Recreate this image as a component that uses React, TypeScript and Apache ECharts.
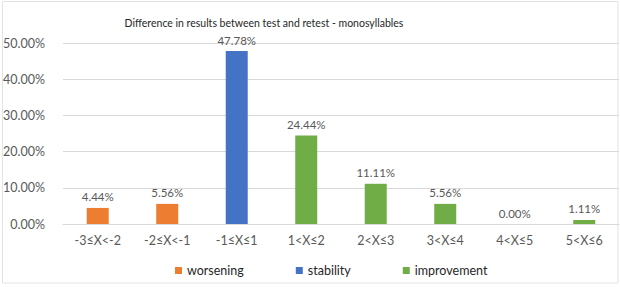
import React, { useEffect, useRef } from "react";
import * as echarts from "echarts";

const categories = ["-3≤X<-2", "-2≤X<-1", "-1≤X≤1", "1<X≤2", "2<X≤3", "3<X≤4", "4<X≤5", "5<X≤6"];
const worsening = [4.44, 5.56, null, null, null, null, null, null];
const stability = [null, null, 47.78, null, null, null, null, null];
const improvement = [null, null, null, 24.44, 11.11, 5.56, 0.0, 1.11];
const seriesNames = ["worsening", "stability", "improvement"];
const seriesColors = ["#ED7D31", "#4472C4", "#70AD47"];
const titleText = "Difference in results between test and retest - monosyllables";

export default function App() {
  const ref = useRef<HTMLDivElement>(null);
  useEffect(() => {
    const chart = echarts.init(ref.current!, null, { renderer: "svg" });
    const font = "Lato";
    const datas = [worsening, stability, improvement];
    chart.setOption({
      animation: false,
      backgroundColor: "#ffffff",
      textStyle: { fontFamily: font },
      graphic: [
        {
          type: "rect",
          shape: { x: 2.5, y: 1.5, width: 615.5, height: 281.5 },
          style: { fill: "none", stroke: "#E3E3E3", lineWidth: 1 },
          silent: true,
        },
      ],
      title: {
        text: titleText,
        left: 259,
        top: 12,
        textAlign: "center",
        textStyle: { fontSize: 10.5, fontWeight: "normal", color: "#262626", fontFamily: font },
      },
      legend: {
        data: seriesNames,
        left: 170,
        top: 259,
        itemWidth: 7,
        itemHeight: 7,
        itemGap: 52,
        icon: "rect",
        textStyle: { fontSize: 12.5, color: "#262626", fontFamily: font },
      },
      grid: { left: 59, right: 1, top: 43, bottom: 63, containLabel: false },
      xAxis: {
        type: "category",
        data: categories,
        axisLine: { lineStyle: { color: "#D9D9D9" } },
        axisTick: { show: false },
        axisLabel: { fontSize: 12.5, color: "#595959", margin: 10, fontFamily: font },
      },
      yAxis: {
        type: "value",
        min: 0,
        max: 50,
        interval: 10,
        axisLine: { show: false },
        axisTick: { show: false },
        splitLine: { lineStyle: { color: "#D9D9D9" } },
        axisLabel: {
          fontSize: 12.5,
          color: "#595959",
          margin: 18,
          fontFamily: font,
          formatter: (v: number) => v.toFixed(2) + "%",
        },
      },
      series: seriesNames.map((name, i) => ({
        name,
        type: "bar",
        stack: "all",
        barWidth: 22,
        data: datas[i],
        itemStyle: { color: seriesColors[i] },
        label: {
          show: true,
          position: "top",
          distance: 5,
          fontSize: 11.5,
          color: "#595959",
          fontFamily: font,
          formatter: (p: any) => (p.value == null ? "" : Number(p.value).toFixed(2) + "%"),
        },
      })),
    });
    return () => chart.dispose();
  }, []);
  return (
    <div
      ref={ref}
      style={{
        position: "fixed",
        left: 0,
        top: 0,
        width: 620,
        height: 287,
      }}
    />
  );
}
